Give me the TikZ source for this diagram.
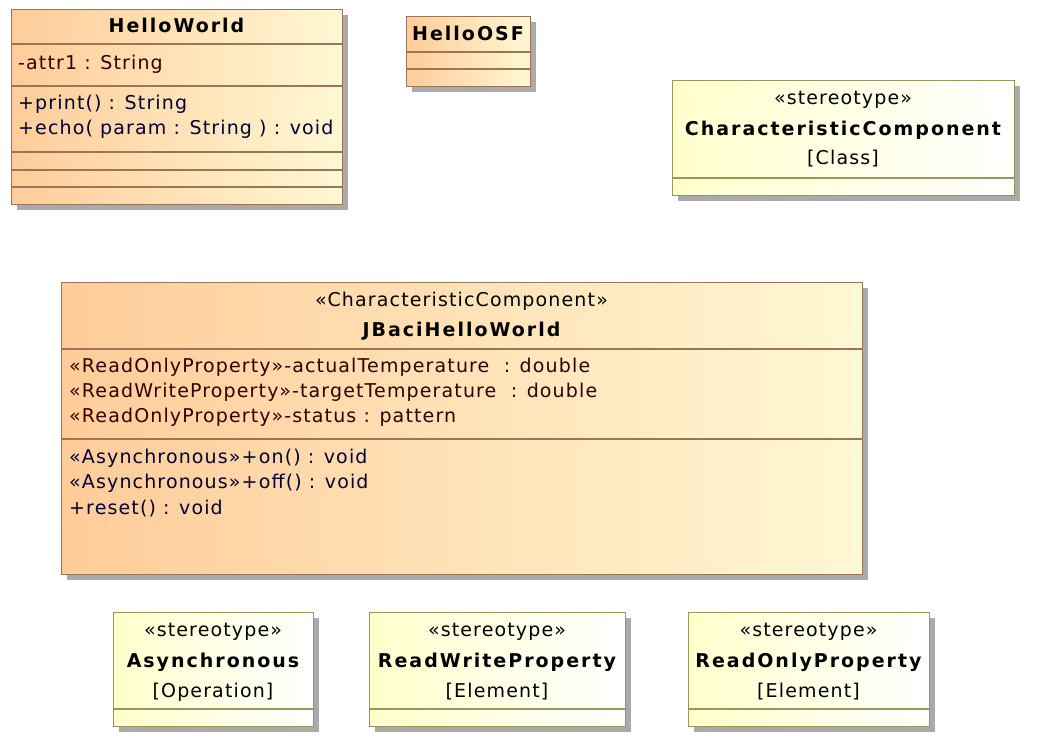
\documentclass[tikz,border=0pt]{standalone}
\usepackage{fontspec}
\setmainfont{DejaVu Sans}
\newfontfamily\umlrg[LetterSpace=6]{DejaVu Sans}
\newfontfamily\umlbf[LetterSpace=10.5]{DejaVu Sans Bold}
\usetikzlibrary{shadows}
\definecolor{classL}{RGB}{255,204,153}
\definecolor{classR}{RGB}{255,248,212}
\definecolor{stereoL}{RGB}{255,255,204}
\definecolor{stereoR}{RGB}{255,255,255}
\definecolor{classBorder}{RGB}{153,119,85}
\definecolor{stereoBorder}{RGB}{153,153,85}
\definecolor{attrText}{RGB}{51,0,0}
\definecolor{opText}{RGB}{0,0,51}
\definecolor{shadowGray}{RGB}{170,170,170}
\tikzset{
  umlshadow/.style={drop shadow={shadow xshift=5pt, shadow yshift=-5pt, fill=shadowGray, opacity=1}},
  classbox/.style={draw=classBorder, line width=1.2pt, left color=classL, right color=classR,
    anchor=north west, inner sep=0pt, umlshadow},
  stereobox/.style={draw=stereoBorder, line width=1.2pt, left color=stereoL, right color=stereoR,
    anchor=north west, inner sep=0pt, umlshadow},
  classline/.style={draw=classBorder, line width=1.2pt},
  stereoline/.style={draw=stereoBorder, line width=1.2pt},
  nametxt/.style={inner sep=0pt, anchor=base, font=\umlbf\fontsize{19}{23}\selectfont, text=black},
  sttxt/.style={inner sep=0pt, anchor=base, font=\umlrg\fontsize{19}{23}\selectfont, text=black},
  attrtxt/.style={inner sep=0pt, anchor=base west, font=\umlrg\fontsize{19}{23}\selectfont, text=attrText},
  optxt/.style={inner sep=0pt, anchor=base west, font=\umlrg\fontsize{19}{23}\selectfont, text=opText},
}
\begin{document}
\begin{tikzpicture}[x=1pt, y=-1pt]
\useasboundingbox[fill=white] (0,0) rectangle (1037,743);

% HelloWorld
\node[classbox, minimum width=331pt, minimum height=195pt] (hw) at (11,9) {};
\foreach \o in {35,77,143,161,178}
  \draw[classline] ([yshift=-\o pt]hw.north west) -- ([yshift=-\o pt]hw.north east);
\node[nametxt] (hwname) at (176.5,33) {HelloWorld};
\node[attrtxt] (hwa1) at (18,70) {-attr1 : String};
\node[optxt] (hwo1) at (18,110) {+print() : String};
\node[optxt] (hwo2) at (18,135) {+echo( param : String ) : void};

% HelloOSF
\node[classbox, minimum width=124pt, minimum height=70pt] (osf) at (406,16) {};
\foreach \o in {36,53}
  \draw[classline] ([yshift=-\o pt]osf.north west) -- ([yshift=-\o pt]osf.north east);
\node[nametxt] (osfname) at (468,41) {HelloOSF};

% CharacteristicComponent stereotype
\node[stereobox, minimum width=342pt, minimum height=115pt] (cc) at (672,80) {};
\draw[stereoline] ([yshift=-98pt]cc.north west) -- ([yshift=-98pt]cc.north east);
\node[sttxt] (ccst) at (843,105) {«stereotype»};
\node[nametxt] (ccname) at (843,136) {CharacteristicComponent};
\node[sttxt] (ccmeta) at (843,165) {[Class]};

% JBaciHelloWorld
\node[classbox, minimum width=801pt, minimum height=292pt] (jb) at (61,282) {};
\foreach \o in {67,157}
  \draw[classline] ([yshift=-\o pt]jb.north west) -- ([yshift=-\o pt]jb.north east);
\node[sttxt] (jbst) at (461.5,307) {«CharacteristicComponent»};
\node[nametxt] (jbname) at (461.5,337) {JBaciHelloWorld};
\node[attrtxt] (jba1) at (69,373) {«ReadOnlyProperty»-actualTemperature~ : double};
\node[attrtxt] (jba2) at (69,398) {«ReadWriteProperty»-targetTemperature~ : double};
\node[attrtxt] (jba3) at (69,423) {«ReadOnlyProperty»-status : pattern};
\node[optxt] (jbo1) at (69,464) {«Asynchronous»+on() : void};
\node[optxt] (jbo2) at (69,489) {«Asynchronous»+off() : void};
\node[optxt] (jbo3) at (69,514) {+reset() : void};

% Asynchronous
\node[stereobox, minimum width=200pt, minimum height=114pt] (as) at (113,612) {};
\draw[stereoline] ([yshift=-97pt]as.north west) -- ([yshift=-97pt]as.north east);
\node[sttxt] (asst) at (213,636) {«stereotype»};
\node[nametxt] (asname) at (213,667) {Asynchronous};
\node[sttxt] (asmeta) at (213,697) {[Operation]};

% ReadWriteProperty
\node[stereobox, minimum width=256pt, minimum height=114pt] (rw) at (369,612) {};
\draw[stereoline] ([yshift=-97pt]rw.north west) -- ([yshift=-97pt]rw.north east);
\node[sttxt] (rwst) at (497,636) {«stereotype»};
\node[nametxt] (rwname) at (497,667) {ReadWriteProperty};
\node[sttxt] (rwmeta) at (497,697) {[Element]};

% ReadOnlyProperty
\node[stereobox, minimum width=241pt, minimum height=114pt] (ro) at (688,612) {};
\draw[stereoline] ([yshift=-97pt]ro.north west) -- ([yshift=-97pt]ro.north east);
\node[sttxt] (rost) at (808.5,636) {«stereotype»};
\node[nametxt] (roname) at (808.5,667) {ReadOnlyProperty};
\node[sttxt] (rometa) at (808.5,697) {[Element]};
\end{tikzpicture}
\end{document}
